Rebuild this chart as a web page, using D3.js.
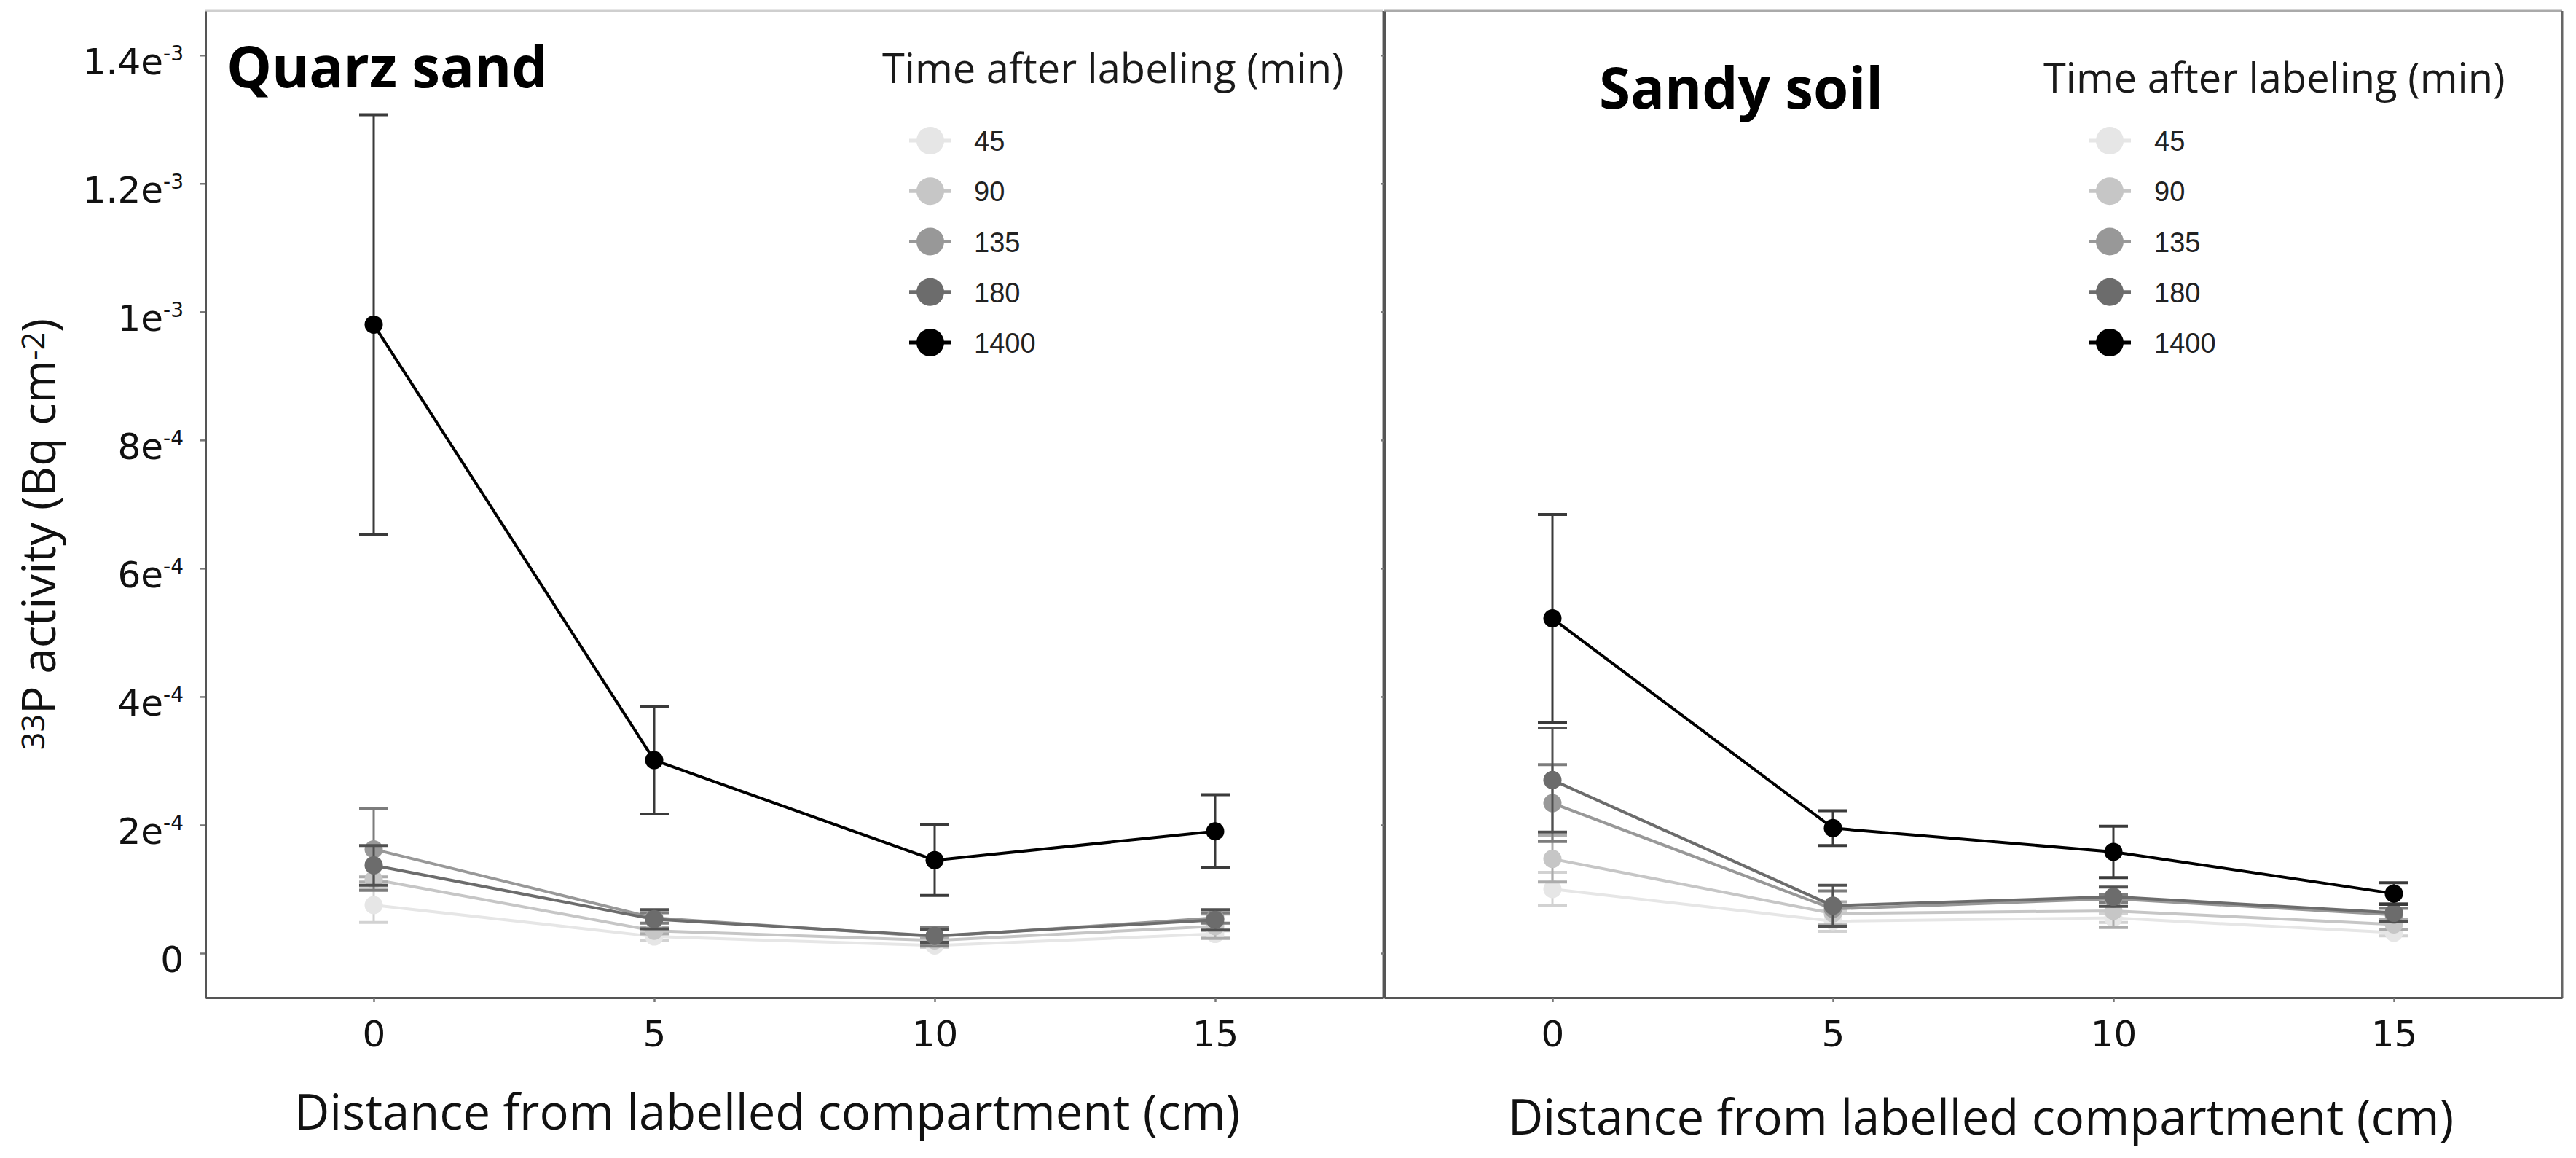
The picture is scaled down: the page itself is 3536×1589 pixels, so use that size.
<!DOCTYPE html>
<html>
<head>
<meta charset="utf-8">
<script src="https://cdn.jsdelivr.net/npm/d3@7/dist/d3.min.js"></script>
<style>
  body { margin: 0; background: #fff; }
  svg { display: block; }
</style>
</head>
<body>
<svg id="chart" width="3536" height="1589"></svg>
<script>
// ---- data, values in Bq cm-2 ----
const distances = [0, 5, 10, 15];
const times = ['45', '90', '135', '180', '1400'];
const yTicks = [0, 2e-4, 4e-4, 6e-4, 8e-4, 1e-3, 1.2e-3, 1.4e-3];
const panelTitles = ['Quarz sand', 'Sandy soil'];
const legendTitle = 'Time after labeling (min)';
const xTitle = 'Distance from labelled compartment (cm)';

// rows = times, cols = distances
const sandMean = [
  [0.75e-4, 0.26e-4, 0.12e-4, 0.30e-4],
  [1.15e-4, 0.35e-4, 0.20e-4, 0.42e-4],
  [1.62e-4, 0.55e-4, 0.26e-4, 0.55e-4],
  [1.37e-4, 0.53e-4, 0.27e-4, 0.52e-4],
  [9.80e-4, 3.01e-4, 1.45e-4, 1.90e-4]
];
const sandSe = [
  [0.27e-4, 0.06e-4, 0.03e-4, 0.05e-4],
  [0.04e-4, 0.05e-4, 0.05e-4, 0.19e-4],
  [0.64e-4, 0.08e-4, 0.15e-4, 0.08e-4],
  [0.31e-4, 0.15e-4, 0.10e-4, 0.16e-4],
  [3.27e-4, 0.84e-4, 0.55e-4, 0.57e-4]
];
const soilMean = [
  [1.00e-4, 0.50e-4, 0.55e-4, 0.32e-4],
  [1.47e-4, 0.62e-4, 0.66e-4, 0.45e-4],
  [2.34e-4, 0.69e-4, 0.85e-4, 0.60e-4],
  [2.70e-4, 0.74e-4, 0.88e-4, 0.63e-4],
  [5.22e-4, 1.95e-4, 1.58e-4, 0.93e-4]
];
const soilSe = [
  [0.26e-4, 0.16e-4, 0.07e-4, 0.05e-4],
  [0.36e-4, 0.18e-4, 0.26e-4, 0.08e-4],
  [0.60e-4, 0.28e-4, 0.06e-4, 0.10e-4],
  [0.81e-4, 0.32e-4, 0.15e-4, 0.14e-4],
  [1.62e-4, 0.27e-4, 0.40e-4, 0.17e-4]
];

// ---- styles ----
const colors = ['#e6e6e6', '#c6c6c6', '#989898', '#6c6c6c', '#000000'];
const errColors = ['#d2d2d2', '#acacac', '#7c7c7c', '#505050', '#3a3a3a'];
const sansFont = '"Open Sans", sans-serif';
const tickFont = '"DejaVu Sans", sans-serif';

const svg = d3.select('#chart');
const plotTop = 15;
const plotBottom = 1369;
const panelW = 1617;

const y = d3.scaleLinear()
  .domain([-6.93e-5, 1.469e-3])
  .range([plotBottom, plotTop]);

const layouts = [
  { x0: 282, title: [311, 120], legend: [1211, 114], key: 1277, label: 1337, xt: [1053, 1550], topCol: '#cfcfcf', mean: sandMean, se: sandSe },
  { x0: 1900, title: [2195, 149], legend: [2805, 127], key: 2896, label: 2957, xt: [2719, 1557], topCol: '#aaaaaa', mean: soilMean, se: soilSe }
];

const legendY = d3.scalePoint().domain(times).range([193, 470]);

function sciParts(v) {
  if (v === 0) return ['0', ''];
  const e = Math.floor(Math.log10(v) + 1e-9);
  const m = +(v / 10 ** e).toFixed(1);
  return [m + 'e', String(e)];
}

layouts.forEach((L, p) => {
  const x = d3.scaleLinear().domain([-3, 18]).range([L.x0, L.x0 + panelW]);
  const g = svg.append('g');

  // frame: top and right sides
  g.append('line')
    .attr('x1', L.x0).attr('x2', L.x0 + panelW)
    .attr('y1', plotTop).attr('y2', plotTop)
    .attr('stroke', L.topCol).attr('stroke-width', 3);
  g.append('line')
    .attr('x1', L.x0 + panelW).attr('x2', L.x0 + panelW)
    .attr('y1', plotTop).attr('y2', plotBottom)
    .attr('stroke', '#666').attr('stroke-width', 3);

  // axes
  const gx = g.append('g')
    .attr('transform', `translate(0,${plotBottom})`)
    .call(d3.axisBottom(x).tickValues(distances).tickSize(6).tickPadding(25).tickSizeOuter(0));
  gx.attr('font-family', tickFont).attr('font-size', 50);
  gx.select('.domain').attr('stroke', '#555').attr('stroke-width', 3);
  gx.selectAll('.tick line').attr('stroke', '#777').attr('stroke-width', 2.5);
  gx.selectAll('.tick text').attr('fill', '#111');

  const gy = g.append('g')
    .attr('transform', `translate(${L.x0},0)`)
    .call(d3.axisLeft(y).tickValues(yTicks).tickSize(p === 0 ? 7 : 5).tickSizeOuter(0).tickFormat(''));
  gy.select('.domain').attr('stroke', '#555').attr('stroke-width', 3);
  gy.selectAll('.tick line').attr('stroke', '#777').attr('stroke-width', 2.5);

  if (p === 0) {
    const lab = g.append('g')
      .attr('font-family', tickFont)
      .attr('fill', '#111')
      .attr('text-anchor', 'end');
    yTicks.forEach(v => {
      const [base, ex] = sciParts(v);
      const t = lab.append('text')
        .attr('x', 252)
        .attr('y', y(v) + 26)
        .attr('font-size', 50);
      t.append('tspan').text(base);
      if (ex) t.append('tspan').attr('font-size', 28).attr('dy', -19).text(ex);
    });
  }

  // series
  const line = d3.line()
    .x((d, j) => x(distances[j]))
    .y(d => y(d));

  times.forEach((t, k) => {
    const means = L.mean[k];
    const ses = L.se[k];
    const sg = g.append('g');
    sg.append('path')
      .attr('d', line(means))
      .attr('fill', 'none')
      .attr('stroke', colors[k])
      .attr('stroke-width', 4);

    const eb = sg.selectAll('g.eb')
      .data(means.map((m, j) => ({ x: distances[j], m, s: ses[j] })))
      .join('g')
      .attr('stroke', errColors[k]);
    eb.append('line')
      .attr('x1', d => x(d.x)).attr('x2', d => x(d.x))
      .attr('y1', d => y(d.m + d.s)).attr('y2', d => y(d.m - d.s))
      .attr('stroke-width', 3);
    eb.append('line')
      .attr('x1', d => x(d.x) - 20).attr('x2', d => x(d.x) + 20)
      .attr('y1', d => y(d.m + d.s)).attr('y2', d => y(d.m + d.s))
      .attr('stroke-width', 4);
    eb.append('line')
      .attr('x1', d => x(d.x) - 20).attr('x2', d => x(d.x) + 20)
      .attr('y1', d => y(d.m - d.s)).attr('y2', d => y(d.m - d.s))
      .attr('stroke-width', 4);

    sg.selectAll('circle')
      .data(means)
      .join('circle')
      .attr('cx', (d, j) => x(distances[j]))
      .attr('cy', d => y(d))
      .attr('r', 12.5)
      .attr('fill', colors[k]);
  });

  // panel title
  g.append('text')
    .attr('x', L.title[0]).attr('y', L.title[1])
    .attr('font-family', sansFont)
    .attr('font-weight', 700)
    .attr('font-size', 78)
    .attr('fill', '#000')
    .text(panelTitles[p]);

  // legend
  g.append('text')
    .attr('x', L.legend[0]).attr('y', L.legend[1])
    .attr('font-family', sansFont)
    .attr('font-size', 56)
    .attr('fill', '#1a1a1a')
    .text(legendTitle);

  const items = g.selectAll('g.key')
    .data(times)
    .join('g')
    .attr('transform', d => `translate(${L.key},${legendY(d)})`);
  items.append('line')
    .attr('x1', -29).attr('x2', 29)
    .attr('stroke', (d, k) => colors[k])
    .attr('stroke-width', 5);
  items.append('circle')
    .attr('r', 19)
    .attr('fill', (d, k) => colors[k]);
  items.append('text')
    .attr('x', L.label - L.key)
    .attr('y', 14)
    .attr('font-family', '"Liberation Sans", Arial, sans-serif')
    .attr('font-size', 38)
    .attr('fill', '#222')
    .text(d => d);

  // x title
  g.append('text')
    .attr('x', L.xt[0]).attr('y', L.xt[1])
    .attr('text-anchor', 'middle')
    .attr('font-family', sansFont)
    .attr('font-size', 67)
    .attr('fill', '#111')
    .text(xTitle);
});

// y title
const yt = svg.append('text')
  .attr('transform', 'translate(76,733) rotate(-90)')
  .attr('text-anchor', 'middle')
  .attr('font-family', sansFont)
  .attr('font-size', 64)
  .attr('fill', '#111');
yt.append('tspan').attr('font-size', 43).attr('dy', -15).text('33');
yt.append('tspan').attr('dy', 15).text('P activity (Bq cm');
yt.append('tspan').attr('font-size', 43).attr('dy', -15).text('-2');
yt.append('tspan').attr('dy', 15).text(')');
</script>
</body>
</html>
